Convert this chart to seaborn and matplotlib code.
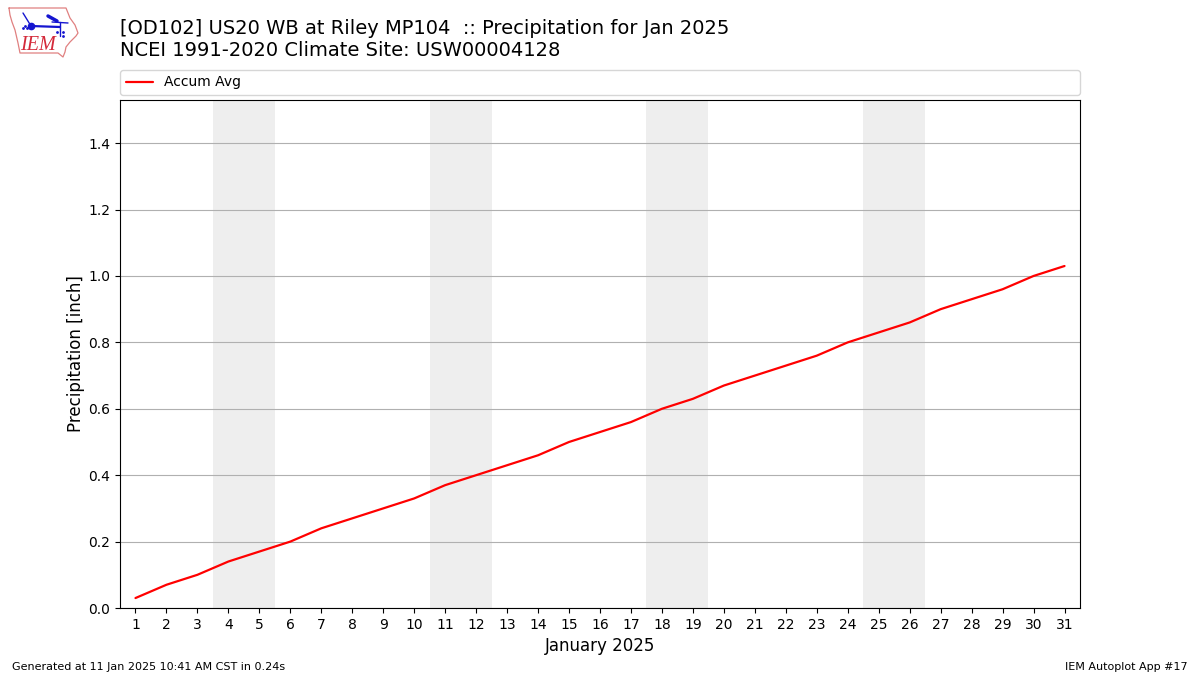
import seaborn as sns
import matplotlib
matplotlib.use('Agg')
import matplotlib.pyplot as plt
import pandas as pd

days = list(range(1, 32))
accum_avg = [0.03, 0.07, 0.10, 0.14, 0.17, 0.20, 0.24, 0.27, 0.30, 0.33, 0.37,
             0.40, 0.43, 0.46, 0.50, 0.53, 0.56, 0.60, 0.63, 0.67, 0.70, 0.73,
             0.76, 0.80, 0.83, 0.86, 0.90, 0.93, 0.96, 1.00, 1.03]
weekends = [(4, 5), (11, 12), (18, 19), (25, 26)]
y_ticks = [0.0, 0.2, 0.4, 0.6, 0.8, 1.0, 1.2, 1.4]

df = pd.DataFrame({'day': days, 'precip': accum_avg})

sns.set_style('ticks')
plt.rcParams['font.family'] = ['DejaVu Sans']

fig = plt.figure(figsize=(12, 6.75), dpi=100)
ax = fig.add_axes([120 / 1200, 1 - 608 / 675, 960 / 1200, 508 / 675])

# weekend shading
for a, b in weekends:
    ax.axvspan(a - 0.5, b + 0.5, color='#eeeeee', lw=0, zorder=0)

sns.lineplot(data=df, x='day', y='precip', color='red', lw=1.6, ax=ax,
             label='Accum Avg', zorder=3)

ax.set_xlim(0.5, 31.5)
ax.set_ylim(0, 1.53)
ax.set_xticks(days)
ax.set_yticks(y_ticks)
ax.tick_params(labelsize=10, colors='black', length=3.5, width=0.8)
ax.grid(axis='y', color='#b0b0b0', lw=0.8, zorder=1)
ax.set_axisbelow(True)
for s in ax.spines.values():
    s.set_visible(True)
    s.set_color('black')
    s.set_linewidth(0.8)
ax.set_xlabel('January 2025', fontsize=12, labelpad=4, color='black')
ax.set_ylabel('Precipitation [inch]', fontsize=12, labelpad=2.5, color='black')

leg = ax.legend(loc='lower left', bbox_to_anchor=(0, 1.0098, 1, 0.05), mode='expand',
                ncol=1, fontsize=10, borderaxespad=0, frameon=True)
for t in leg.get_texts():
    t.set_color('black')

fig.text(120 / 1200, 1 - 29 / 675, '[OD102] US20 WB at Riley MP104  :: Precipitation for Jan 2025',
         fontsize=14, va='center', ha='left', color='black')
fig.text(120 / 1200, 1 - 51 / 675, 'NCEI 1991-2020 Climate Site: USW00004128',
         fontsize=14, va='center', ha='left', color='black')
fig.text(12 / 1200, 1 - 667 / 675, 'Generated at 11 Jan 2025 10:41 AM CST in 0.24s',
         fontsize=8, va='center', ha='left', color='black')
fig.text(1188 / 1200, 1 - 667 / 675, 'IEM Autoplot App #17',
         fontsize=8, va='center', ha='right', color='black')

# logo, in figure pixels
logo = fig.add_axes([0, 0, 1, 1], facecolor='none')
logo.set_xlim(0, 1200)
logo.set_ylim(675, 0)
logo.axis('off')
outline_x = [9, 66, 68, 70, 75, 78, 76, 70, 66, 65, 63, 58, 20, 18, 15, 12, 10, 9]
outline_y = [8, 8, 13, 18, 25, 33, 36, 42, 47, 52, 57, 53, 53, 43, 30, 22, 15, 8]
logo.plot(outline_x, outline_y, color='#e08080', lw=0.9)
logo.plot([31, 60], [26, 27], color='#1515d0', lw=1.6)
logo.plot([31, 23], [26, 13], color='#1515d0', lw=1.0)
logo.plot([60, 60], [22, 36], color='#1515d0', lw=1.0)
logo.plot([52, 68], [22, 23], color='#1515d0', lw=1.0)
logo.plot([48, 57], [16, 21], color='#1515d0', lw=2.5)
logo.plot([31], [26], 'o', color='#1515d0', ms=4.5)
logo.plot([23, 25, 27, 57, 63, 63], [28, 26, 28, 32, 32, 36], ls='none', marker='.', ms=2,
          color='#1515d0')
logo.text(20, 46, 'IEM', family='Liberation Serif', style='italic', color='#d42a3a',
          fontsize=14.5, va='center', ha='left')

plt.savefig('out.png', dpi=100)
